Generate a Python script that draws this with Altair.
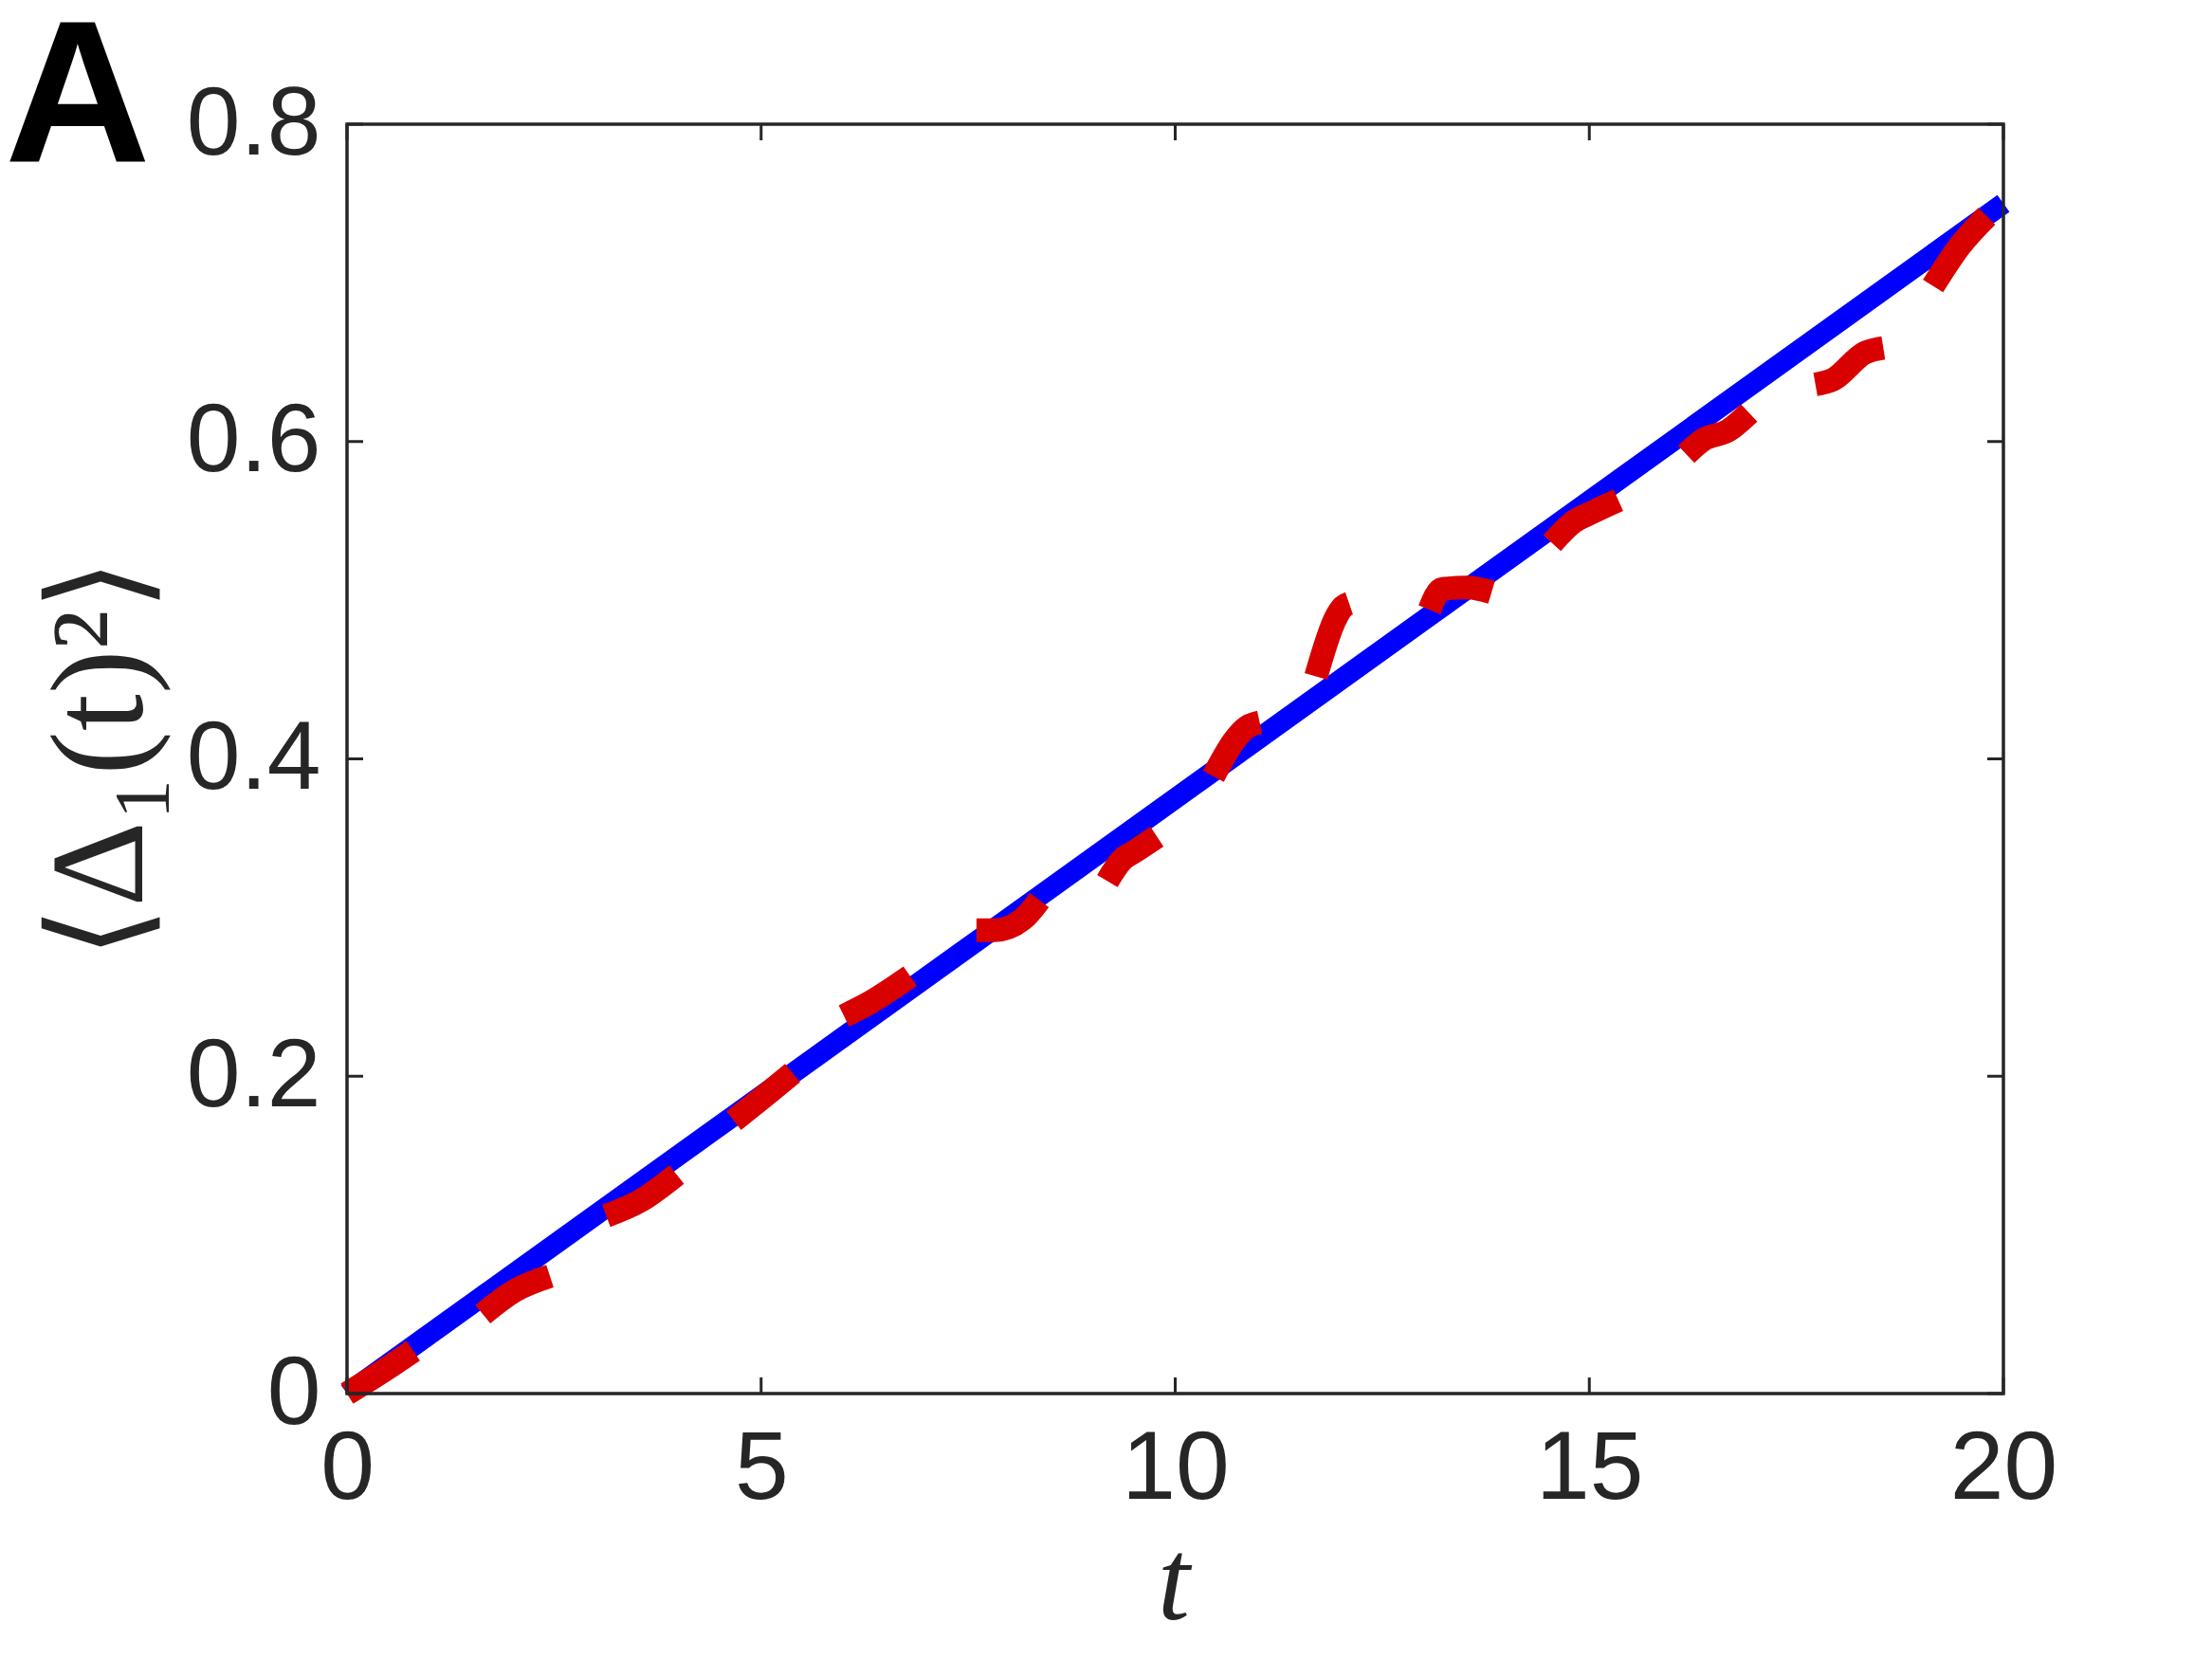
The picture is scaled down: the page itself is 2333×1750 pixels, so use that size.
import altair as alt
import pandas as pd

# ---- data ----
blue_t = [0, 20]
blue_y = [0.0, 0.75]

# red dashed curve: each visible dash as a list of (t, value)
red_dashes = [
    ([0.0, 0.4, 0.8], [0.0, 0.013, 0.027]),
    ([1.64, 2.03, 2.45], [0.050, 0.065, 0.074]),
    ([3.13, 3.56, 3.98], [0.112, 0.122, 0.138]),
    ([4.67, 5.10, 5.38], [0.172, 0.190, 0.202]),
    ([6.00, 6.30, 6.80], [0.238, 0.246, 0.263]),
    ([7.60, 7.82, 8.16, 8.36], [0.292, 0.292, 0.299, 0.311]),
    ([9.18, 9.35, 9.52, 9.78], [0.323, 0.336, 0.342, 0.351]),
    ([10.46, 10.72, 10.84, 11.02], [0.389, 0.412, 0.419, 0.423]),
    ([11.70, 11.94, 12.03, 12.10], [0.452, 0.489, 0.496, 0.498]),
    ([13.07, 13.22, 13.53, 13.82], [0.494, 0.507, 0.508, 0.505]),
    ([14.55, 14.80, 15.06, 15.35], [0.536, 0.549, 0.556, 0.563]),
    ([16.17, 16.37, 16.68, 16.93], [0.592, 0.601, 0.607, 0.618]),
    ([17.73, 17.94, 18.33, 18.55], [0.636, 0.639, 0.656, 0.659]),
    ([19.15, 19.47, 19.80], [0.698, 0.723, 0.742]),
]

x_ticks = [0, 5, 10, 15, 20]
y_ticks = [0, 0.2, 0.4, 0.6, 0.8]

panel_letter = "A"
x_title = "t"
y_title = "\u27e8\u0394\u2081(t)\u00b2\u27e9"

# ---- layout constants ----
W, H = 1747, 1339
TICK = 17
AXIS_COLOR = "#262626"
LABEL_FONT = "Liberation Sans"

blue_df = pd.DataFrame({"t": blue_t, "v": blue_y})
rows = []
for i, (ts, vs) in enumerate(red_dashes):
    for j, (t, v) in enumerate(zip(ts, vs)):
        rows.append({"t": t, "v": v, "seg": i, "o": j})
red_df = pd.DataFrame(rows)
xt_df = pd.DataFrame({"t": x_ticks})
yt_df = pd.DataFrame({"v": y_ticks})

xscale = alt.Scale(domain=[0, 20], nice=False, zero=False)
yscale = alt.Scale(domain=[0, 0.8], nice=False, zero=False)

x_axis = alt.Axis(values=x_ticks, format="~g", ticks=False, domain=False, grid=False,
                  labelFont=LABEL_FONT, labelFontSize=102, labelColor=AXIS_COLOR,
                  labelPadding=29, title=None, labelFlush=False)
y_axis = alt.Axis(values=y_ticks, format="~g", ticks=False, domain=False, grid=False,
                  labelFont=LABEL_FONT, labelFontSize=102, labelColor=AXIS_COLOR,
                  labelPadding=28, title=None, labelFlush=False)

X = alt.X("t:Q", scale=xscale, axis=x_axis)
Y = alt.Y("v:Q", scale=yscale, axis=y_axis)

blue = alt.Chart(blue_df).mark_line(color="#0000FF", strokeWidth=22, strokeCap="butt").encode(
    x=X, y=Y,
)

red = alt.Chart(red_df).mark_line(color="#D90000", strokeWidth=25, strokeCap="butt",
                                   strokeJoin="round", interpolate="monotone").encode(
    x=X, y=Y,
    detail="seg:N",
    order="o:Q",
)

tick_style = dict(color=AXIS_COLOR, strokeWidth=3)
bottom_ticks = alt.Chart(xt_df).mark_rule(**tick_style).encode(
    x=X, y=alt.value(H), y2=alt.value(H - TICK))
top_ticks = alt.Chart(xt_df).mark_rule(**tick_style).encode(
    x=X, y=alt.value(0), y2=alt.value(TICK))
left_ticks = alt.Chart(yt_df).mark_rule(**tick_style).encode(
    y=Y, x=alt.value(0), x2=alt.value(TICK))
right_ticks = alt.Chart(yt_df).mark_rule(**tick_style).encode(
    y=Y, x=alt.value(W), x2=alt.value(W - TICK))

frame = alt.Chart(pd.DataFrame({"k": [0]})).mark_rect(
    fill=None, stroke=AXIS_COLOR, strokeWidth=3.5).encode(
    x=alt.value(0), x2=alt.value(W), y=alt.value(0), y2=alt.value(H))

letter = alt.Chart(pd.DataFrame({"s": [panel_letter]})).mark_text(
    font=LABEL_FONT, fontSize=213, fontWeight="bold", color="#000000",
    align="left", baseline="alphabetic").encode(
    text="s:N", x=alt.value(-361), y=alt.value(40))

xlab = alt.Chart(pd.DataFrame({"s": [x_title]})).mark_text(
    font="Liberation Serif", fontSize=122, fontStyle="italic", color=AXIS_COLOR,
    align="center", baseline="alphabetic").encode(
    text="s:N", x=alt.value(872), y=alt.value(1577))

ylab = alt.Chart(pd.DataFrame({"s": [y_title]})).mark_text(
    font="Liberation Serif", fontSize=140, color=AXIS_COLOR, angle=270,
    align="center", baseline="middle").encode(
    text="s:N", x=alt.value(-258), y=alt.value(669))

chart = alt.layer(
    blue, red, bottom_ticks, top_ticks, left_ticks, right_ticks, frame, letter, xlab, ylab
).properties(
    width=W, height=H,
    autosize=alt.AutoSizeParams(type="none"),
    padding={"left": 358, "top": 123, "right": 212, "bottom": 272},
).configure_view(
    stroke=None
).configure(background="white")

chart.save("out.html", embed_options={"renderer": "svg", "actions": False})
